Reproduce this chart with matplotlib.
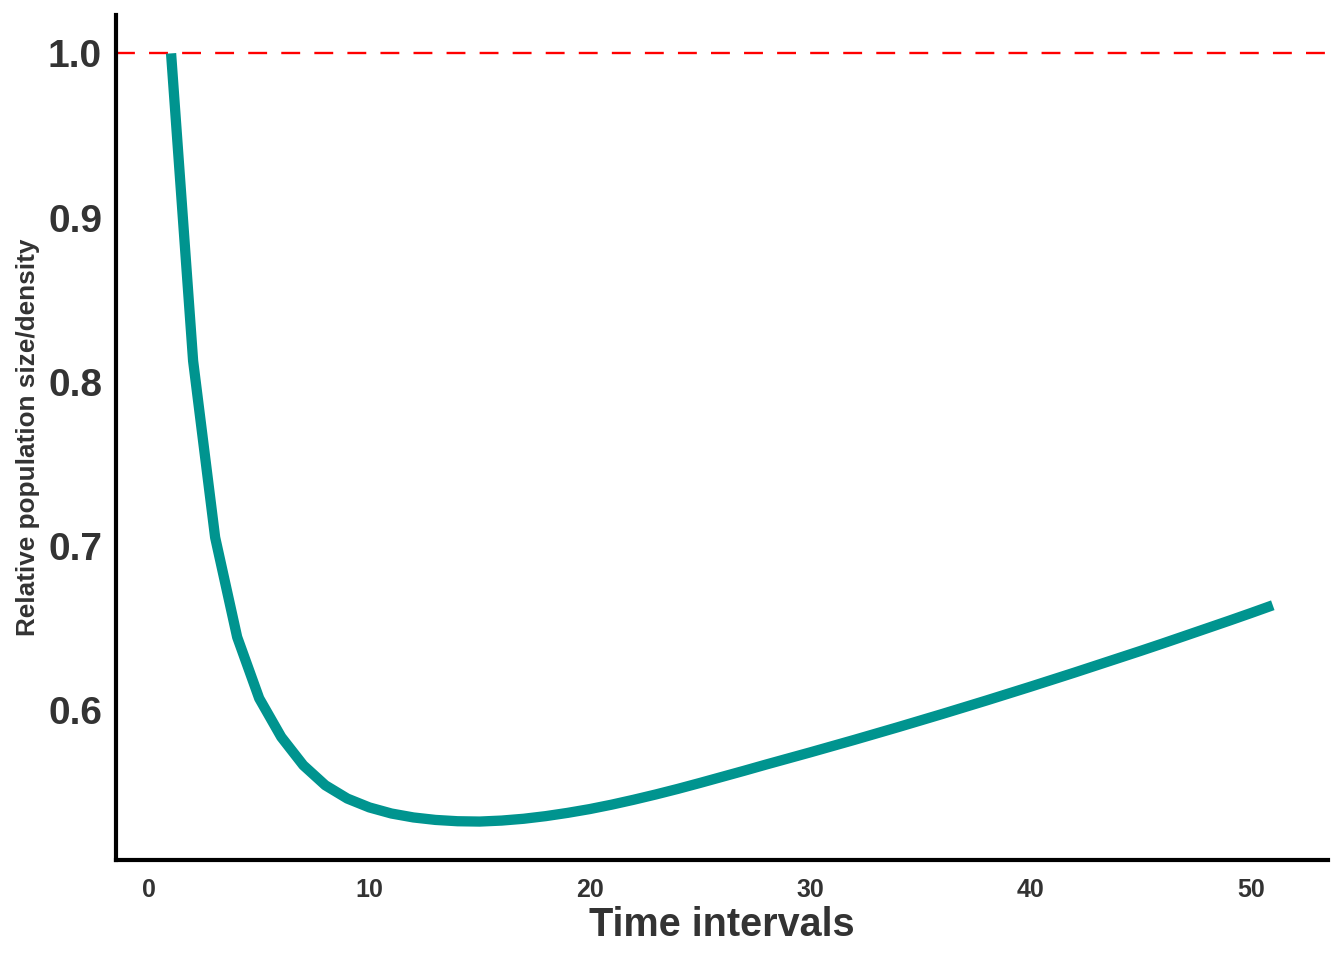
import matplotlib
matplotlib.use('Agg')
import matplotlib.pyplot as plt

plt.rcParams['font.family'] = ['Liberation Sans', 'DejaVu Sans']

# data
time = list(range(1, 52))
rel_size = [1.0, 0.8128, 0.7053, 0.6446, 0.6073, 0.5838, 0.5666, 0.5544, 0.5463, 0.5409,
            0.5372, 0.5348, 0.5333, 0.5325, 0.5323, 0.5329, 0.5340, 0.5356, 0.5376, 0.5399,
            0.5426, 0.5456, 0.5488, 0.5522, 0.5558, 0.5595, 0.5632, 0.5670, 0.5707, 0.5744,
            0.5782, 0.5820, 0.5859, 0.5898, 0.5938, 0.5978, 0.6019, 0.6060, 0.6102, 0.6144,
            0.6187, 0.6230, 0.6274, 0.6318, 0.6362, 0.6407, 0.6453, 0.6499, 0.6545, 0.6592,
            0.6640]
baseline = 1.0
xticks = [0, 10, 20, 30, 40, 50]
yticks = [0.6, 0.7, 0.8, 0.9, 1.0]

txt = '#333333'

fig = plt.figure(figsize=(13.44, 9.6), dpi=100)
ax = fig.add_axes([0.0863, 0.1042, 0.9017, 0.8802])

ax.axhline(baseline, color='red', lw=1.7, ls=(0, (8, 6)))
ax.plot(time, rel_size, color='#00948F', lw=7.4, solid_capstyle='butt', solid_joinstyle='round')

ax.set_xlim(-1.5, 53.5)
lo, hi = min(rel_size), max(rel_size)
pad = (hi - lo) * 0.05
ax.set_ylim(lo - pad, hi + pad)

ax.set_xticks(xticks)
ax.set_yticks(yticks)
ax.set_xticklabels([str(v) for v in xticks], fontsize=18, fontweight='bold', color=txt)
ax.set_yticklabels(['%.1f' % v for v in yticks], fontsize=28, fontweight='bold', color=txt)
ax.tick_params(axis='both', length=0)
ax.tick_params(axis='x', pad=13)
ax.tick_params(axis='y', pad=10)

for s in ['top', 'right']:
    ax.spines[s].set_visible(False)
for s in ['left', 'bottom']:
    ax.spines[s].set_linewidth(3)
    ax.spines[s].set_color('black')

ax.set_xlabel('Time intervals', fontsize=28.5, fontweight='bold', color=txt, labelpad=3)
ax.set_ylabel('Relative population size/density', fontsize=18.8, fontweight='bold', color=txt, labelpad=6)

plt.savefig('out.png', dpi=100)
